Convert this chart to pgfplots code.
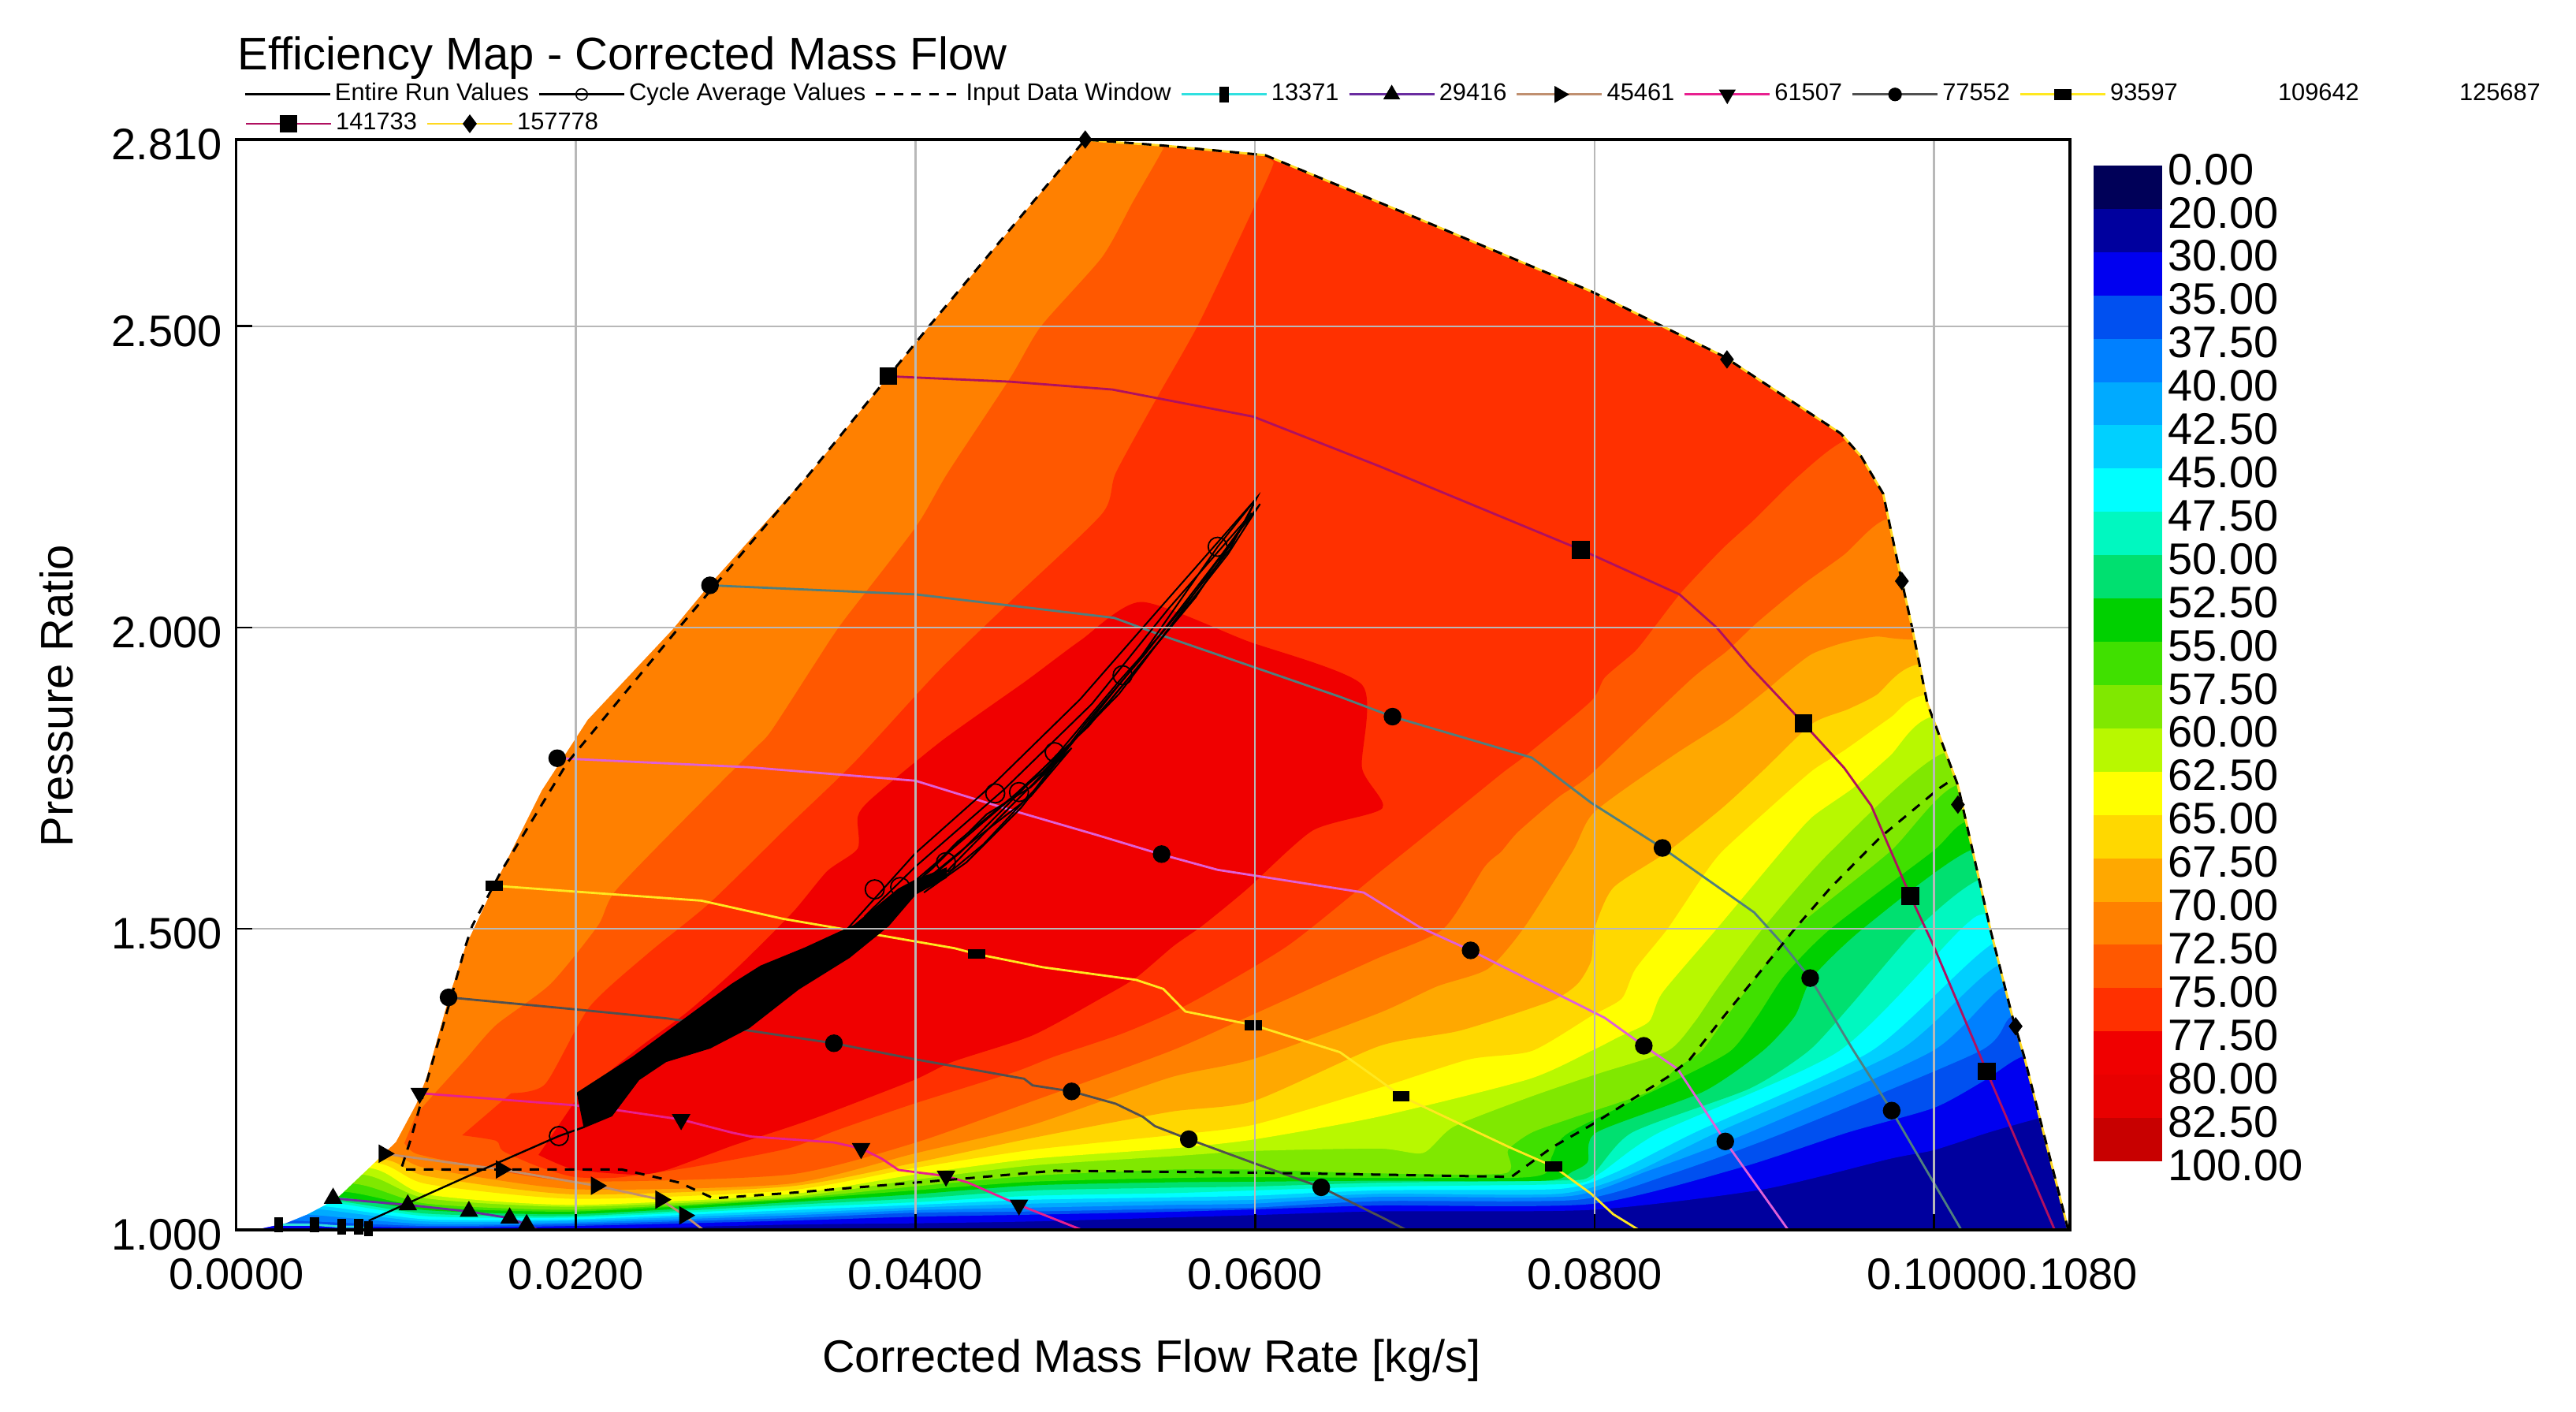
\documentclass[border=0pt]{standalone}
\usepackage{fontspec}
\setmainfont{Liberation Sans}
\usepackage{pgfplots}
\pgfplotsset{compat=1.18}

% band colours, named by lower limit
\definecolor{c0}{HTML}{000058}
\definecolor{c20}{HTML}{00009E}
\definecolor{c30}{HTML}{0000F0}
\definecolor{c35}{HTML}{0050F0}
\definecolor{c375}{HTML}{0080FF}
\definecolor{c40}{HTML}{00AAFF}
\definecolor{c425}{HTML}{00D0FF}
\definecolor{c45}{HTML}{00FFFF}
\definecolor{c475}{HTML}{00F8C0}
\definecolor{c50}{HTML}{00E070}
\definecolor{c525}{HTML}{00D000}
\definecolor{c55}{HTML}{40E000}
\definecolor{c575}{HTML}{80E800}
\definecolor{c60}{HTML}{B8F800}
\definecolor{c625}{HTML}{FFFF00}
\definecolor{c65}{HTML}{FFD800}
\definecolor{c675}{HTML}{FFA800}
\definecolor{c70}{HTML}{FF8000}
\definecolor{c725}{HTML}{FF5800}
\definecolor{c75}{HTML}{FF3000}
\definecolor{c775}{HTML}{F00000}
\definecolor{c80}{HTML}{E80000}
\definecolor{c825}{HTML}{C80000}
% speed lines
\definecolor{s13}{HTML}{30E0E0}
\definecolor{s29}{HTML}{6A2CA0}
\definecolor{s45}{HTML}{C09070}
\definecolor{s61}{HTML}{E8208F}
\definecolor{s77}{HTML}{505050}
\definecolor{s93}{HTML}{FFE820}
\definecolor{s109}{HTML}{E060D8}
\definecolor{s125}{HTML}{4F7F7F}
\definecolor{s141}{HTML}{B01060}
\definecolor{s157}{HTML}{FFD820}
\definecolor{gridc}{HTML}{B8B8B8}

\pgfplotsset{
  band/.style={fill=#1,draw=none,forget plot},
  cband/.style={fill=#1,draw=none,forget plot,smooth,tension=.4},
  spd/.style={color=#1,line width=.7pt,forget plot},
  mk/.style={only marks,forget plot,mark=#1,mark size=2.6pt,mark options={solid,black,fill=black}},
  vbar/.style={mark=square*,mark size=2.2pt,mark options={solid,black,fill=black,xscale=.55}},
  hbar/.style={mark=square*,mark size=2.5pt,mark options={solid,black,fill=black,yscale=.55}},
  legimg/.style={legend image code/.code={
    \draw[mark repeat=2,mark phase=2,##1] plot coordinates {(0pt,0pt)(13.5pt,0pt)(27pt,0pt)};}},
  legrow/.style={legimg,legend columns=-1,
    legend style={draw=none,fill=none,font=\fontsize{7.7}{8}\selectfont,inner sep=0pt,
      nodes={inner sep=1.2pt,anchor=west},
      /tikz/every even column/.append style={column sep=1.7pt}}},
  lm/.style={mark=#1,mark size=2.4pt,mark options={solid,black,fill=black}},
}

\begin{document}
\begin{tikzpicture}
\useasboundingbox (-75.25pt,-57.5pt) rectangle (741.75pt,390pt);

\begin{axis}[
  name=map,
  at={(-0.3pt,0pt)},anchor=south west,
  scale only axis,width=581.55pt,height=345.75pt,
  xmin=0,xmax=0.108,ymin=1,ymax=2.81,
  axis on top,clip mode=individual,
  xtick={0,0.02,0.04,0.06,0.08,0.1,0.108},
  xticklabels={0.0000,0.0200,0.0400,0.0600,0.0800,0.1000,0.1080},
  ytick={1,1.5,2,2.5,2.81},
  yticklabels={1.000,1.500,2.000,2.500,2.810},
  xtick pos=bottom,ytick pos=left,tick align=inside,major tick length=5pt,
  tick style={black,line width=.7pt},
  tick label style={font=\fontsize{14}{15}\selectfont},
  xticklabel style={yshift=-5.5pt},
  yticklabel style={yshift=-1.5pt,xshift=-1pt},
  grid=major,grid style={gridc,line width=.6pt},
  axis line style={line width=.8pt},
  title={Efficiency Map - Corrected Mass Flow},
  title style={at={(0,1)},anchor=base west,xshift=-3pt,yshift=16pt,font=\fontsize{14.5}{16}\selectfont},
  xlabel={Corrected Mass Flow Rate [kg/s]},
  xlabel style={at={(axis description cs:0.5,0)},anchor=center,xshift=-0.5pt,yshift=-41.5pt,font=\fontsize{14.4}{16}\selectfont},
  ylabel={Pressure Ratio},
  ylabel style={at={(axis description cs:0,0.5)},anchor=center,yshift=57pt,xshift=-3.5pt,font=\fontsize{14.5}{16}\selectfont},
  legrow,
  legend style={at={(axis description cs:0,1)},anchor=west,xshift=2.2pt,yshift=14.3pt},
]

% efficiency bands, lowest first, each one covers everything above its contour
\addplot[band=c20] coordinates {(0,1)(0.108,1)(0.108,2.81)(0,2.81)} -- cycle;
\addplot[cband=c30] coordinates {(0,1)(0.018,1)(0.0325,1.0087)(0.0399,1.0109)(0.0469,1.014)(0.055,1.0205)(0.0599,1.0245)(0.0673,1.0308)(0.0798,1.0332)(0.0899,1.0671)(0.0974,1.118)(0.1,1.1325)(0.1032,1.1616)(0.1063,1.186)(0.108,1.19)(0.108,2.81)(0,2.81)} -- cycle;
\addplot[cband=c35] coordinates {(0,1.0087)(0.0027,1.0087)(0.0112,1.0037)(0.0199,1.0065)(0.0325,1.0153)(0.0399,1.0218)(0.0469,1.0253)(0.055,1.03)(0.0599,1.034)(0.0673,1.0405)(0.0798,1.043)(0.0886,1.1035)(0.0949,1.1616)(0.1,1.2027)(0.103,1.2487)(0.1052,1.2875)(0.108,1.2875)(0.108,2.81)(0,2.81)} -- cycle;
\addplot[cband=c375] coordinates {(0,1.0153)(0.0034,1.0153)(0.0112,1.0065)(0.0199,1.0096)(0.0325,1.0196)(0.0399,1.0284)(0.0469,1.0306)(0.055,1.0349)(0.0599,1.037)(0.0673,1.0478)(0.079,1.05)(0.0846,1.0938)(0.0912,1.1616)(0.1027,1.297)(0.1046,1.355)(0.108,1.355)(0.108,2.81)(0,2.81)} -- cycle;
\addplot[cband=c40] coordinates {(0,1.0253)(0.0042,1.0253)(0.0112,1.0096)(0.0199,1.0122)(0.0325,1.024)(0.0399,1.0327)(0.0469,1.037)(0.055,1.0414)(0.0599,1.0436)(0.0673,1.055)(0.0785,1.056)(0.0832,1.0986)(0.0891,1.1616)(0.0999,1.297)(0.1041,1.404)(0.108,1.404)(0.108,2.81)(0,2.81)} -- cycle;
\addplot[cband=c425] coordinates {(0,1.0349)(0.0046,1.0349)(0.0112,1.014)(0.0199,1.0153)(0.0325,1.028)(0.0399,1.037)(0.0469,1.0436)(0.055,1.048)(0.0599,1.05)(0.0673,1.0599)(0.0779,1.0599)(0.0822,1.0938)(0.0872,1.1616)(0.0979,1.297)(0.1037,1.438)(0.108,1.438)(0.108,2.81)(0,2.81)} -- cycle;
\addplot[cband=c45] coordinates {(0,1.0393)(0.0051,1.0393)(0.0112,1.0175)(0.0199,1.0175)(0.0325,1.0327)(0.0399,1.0414)(0.0469,1.05)(0.055,1.054)(0.0599,1.0567)(0.0673,1.0657)(0.0779,1.068)(0.0811,1.0938)(0.0859,1.1616)(0.0963,1.297)(0.1035,1.476)(0.108,1.476)(0.108,2.81)(0,2.81)} -- cycle;
\addplot[cband=c475] coordinates {(0,1.0458)(0.0054,1.0458)(0.0112,1.0227)(0.0199,1.0205)(0.0325,1.037)(0.0399,1.0458)(0.0469,1.0567)(0.055,1.061)(0.0599,1.0655)(0.0673,1.072)(0.0785,1.0764)(0.0803,1.0938)(0.0838,1.1616)(0.0944,1.297)(0.1016,1.5)(0.1032,1.525)(0.108,1.525)(0.108,2.81)(0,2.81)} -- cycle;
\addplot[cband=c50] coordinates {(0,1.0489)(0.0056,1.0489)(0.0112,1.027)(0.0199,1.023)(0.0325,1.0414)(0.0399,1.052)(0.0469,1.0655)(0.055,1.07)(0.0599,1.072)(0.0673,1.0783)(0.0779,1.082)(0.0798,1.09)(0.0822,1.1616)(0.0891,1.2342)(0.0926,1.297)(0.095,1.37)(0.099,1.5)(0.1028,1.583)(0.108,1.583)(0.108,2.81)(0,2.81)} -- cycle;
\addplot[cband=c525] coordinates {(0,1.0545)(0.006,1.0545)(0.0112,1.0327)(0.0199,1.0262)(0.0325,1.0458)(0.0399,1.059)(0.0469,1.074)(0.055,1.079)(0.0599,1.08)(0.0673,1.0817)(0.0771,1.0817)(0.0787,1.097)(0.0796,1.1131)(0.0801,1.1616)(0.0864,1.2294)(0.0899,1.297)(0.0918,1.355)(0.0928,1.418)(0.0958,1.5)(0.1022,1.631)(0.108,1.631)(0.108,2.81)(0,2.81)} -- cycle;
\addplot[cband=c55] coordinates {(0,1.0632)(0.0064,1.0632)(0.0112,1.038)(0.0199,1.0305)(0.0325,1.05)(0.0399,1.0655)(0.0469,1.08)(0.055,1.086)(0.0599,1.0875)(0.0673,1.0865)(0.0753,1.0865)(0.0771,1.0938)(0.0775,1.1228)(0.0785,1.1616)(0.0848,1.2487)(0.088,1.297)(0.0896,1.355)(0.0912,1.423)(0.0939,1.5)(0.0999,1.628)(0.1021,1.68)(0.108,1.68)(0.108,2.81)(0,2.81)} -- cycle;
\addplot[cband=c575] coordinates {(0,1.0764)(0.007,1.0764)(0.0112,1.0436)(0.0199,1.0336)(0.0325,1.052)(0.0399,1.072)(0.0469,1.09)(0.055,1.1)(0.0599,1.1)(0.0673,1.0938)(0.0747,1.0938)(0.0749,1.1325)(0.0763,1.1616)(0.0787,1.186)(0.0832,1.2294)(0.0848,1.268)(0.0863,1.297)(0.0878,1.355)(0.0896,1.423)(0.0918,1.5)(0.0974,1.628)(0.1013,1.738)(0.108,1.738)(0.108,2.81)(0,2.81)} -- cycle;
\addplot[cband=c60] coordinates {(0,1.0916)(0.0075,1.0916)(0.0112,1.0524)(0.0199,1.0384)(0.0325,1.0545)(0.0399,1.083)(0.0469,1.107)(0.055,1.122)(0.0599,1.131)(0.0673,1.135)(0.0699,1.1277)(0.0717,1.1713)(0.0761,1.2197)(0.0801,1.2584)(0.0843,1.297)(0.0859,1.3456)(0.0872,1.399)(0.0899,1.5)(0.0939,1.628)(0.1005,1.791)(0.108,1.791)(0.108,2.81)(0,2.81)} -- cycle;
\addplot[cband=c625] coordinates {(0,1.1025)(0.0079,1.1025)(0.0112,1.0589)(0.0199,1.0414)(0.0325,1.059)(0.0399,1.0916)(0.0469,1.118)(0.055,1.135)(0.0599,1.15)(0.0673,1.188)(0.0761,1.25)(0.0798,1.297)(0.0814,1.32)(0.0832,1.3456)(0.084,1.394)(0.0872,1.5)(0.091,1.628)(0.0928,1.685)(0.0952,1.733)(0.0974,1.787)(0.0999,1.852)(0.108,1.852)(0.108,2.81)(0,2.81)} -- cycle;
\addplot[cband=c65] coordinates {(0,1.1113)(0.0082,1.1113)(0.0112,1.0763)(0.0199,1.0515)(0.0325,1.0655)(0.0399,1.1025)(0.0469,1.133)(0.055,1.157)(0.0599,1.1745)(0.0673,1.2356)(0.0726,1.283)(0.0763,1.297)(0.0798,1.355)(0.0816,1.384)(0.0824,1.433)(0.0843,1.5)(0.0864,1.588)(0.0875,1.628)(0.0899,1.69)(0.0928,1.762)(0.0947,1.796)(0.0974,1.85)(0.0995,1.888)(0.108,1.888)(0.108,2.81)(0,2.81)} -- cycle;
\addplot[cband=c675] coordinates {(0,1.1178)(0.0085,1.1178)(0.0112,1.0894)(0.0199,1.0589)(0.0325,1.072)(0.0399,1.111)(0.0469,1.1527)(0.055,1.196)(0.0599,1.2138)(0.0673,1.305)(0.0721,1.331)(0.0774,1.3795)(0.079,1.4085)(0.0798,1.447)(0.08,1.5)(0.0811,1.568)(0.0843,1.628)(0.0875,1.7)(0.0899,1.762)(0.0928,1.84)(0.0949,1.864)(0.0966,1.888)(0.0991,1.939)(0.108,1.939)(0.108,2.81)(0,2.81)} -- cycle;
\addplot[cband=c70] coordinates {(0,1.1243)(0.0089,1.1243)(0.0112,1.1025)(0.0199,1.0676)(0.0325,1.0764)(0.0399,1.1265)(0.0469,1.1745)(0.055,1.253)(0.0599,1.2836)(0.0673,1.36)(0.0707,1.404)(0.0737,1.433)(0.0758,1.5)(0.0787,1.628)(0.08,1.694)(0.0846,1.787)(0.0878,1.845)(0.0902,1.898)(0.0912,1.922)(0.0928,1.956)(0.0947,1.975)(0.0966,1.985)(0.0987,1.98)(0.108,1.98)(0.108,2.81)(0,2.81)} -- cycle;
\addplot[cband=c725] coordinates {(0.0099,1.144)(0.0106,1.1265)(0.0135,1.109)(0.0199,1.0807)(0.0325,1.0916)(0.0399,1.144)(0.0469,1.2138)(0.055,1.2967)(0.0599,1.3578)(0.064,1.41)(0.0673,1.452)(0.0711,1.5)(0.0735,1.602)(0.0745,1.628)(0.0755,1.661)(0.0779,1.719)(0.0798,1.757)(0.0856,1.912)(0.0878,1.961)(0.0896,2.009)(0.0923,2.072)(0.0947,2.121)(0.0971,2.179)(0.102,2.2)(0.102,2.81)(0.0546,2.81)(0.0546,2.795)(0.0528,2.706)(0.051,2.615)(0.0474,2.5)(0.0456,2.415)(0.0419,2.2565)(0.04,2.166)(0.0357,2.0086)(0.0341,1.941)(0.0315,1.828)(0.0305,1.798)(0.0276,1.716)(0.0224,1.565)(0.0213,1.505)(0.0185,1.408)(0.0153,1.34)(0.0135,1.283)(0.0117,1.227)(0.0106,1.192)} -- cycle;
\addplot[cband=c75] coordinates {(0.0133,1.157)(0.0153,1.148)(0.0157,1.131)(0.0178,1.105)(0.0199,1.088)(0.0225,1.087)(0.027,1.105)(0.0325,1.1352)(0.0354,1.1658)(0.0399,1.2094)(0.0458,1.2618)(0.0482,1.288)(0.0523,1.3272)(0.0561,1.3752)(0.0619,1.4712)(0.0673,1.593)(0.0707,1.67)(0.0745,1.757)(0.0761,1.791)(0.0798,1.878)(0.0806,1.917)(0.0824,1.961)(0.0835,2)(0.0851,2.058)(0.0875,2.13)(0.0894,2.179)(0.092,2.251)(0.0947,2.31)(0.1,2.36)(0.1,2.81)(0.0611,2.81)(0.0611,2.771)(0.0599,2.695)(0.0567,2.505)(0.0542,2.38)(0.0518,2.2565)(0.051,2.189)(0.0457,2.046)(0.0413,1.926)(0.0364,1.776)(0.0325,1.67)(0.0279,1.543)(0.0243,1.4601)(0.0208,1.37)(0.0182,1.2423)(0.0162,1.227)} -- cycle;
\addplot[cband=c775] coordinates {(0.0178,1.1244)(0.0199,1.1003)(0.0236,1.0916)(0.0254,1.1)(0.0292,1.1396)(0.0325,1.1702)(0.0347,1.192)(0.0399,1.2487)(0.0422,1.2792)(0.0469,1.3229)(0.0509,1.384)(0.053,1.4188)(0.0552,1.4712)(0.0569,1.505)(0.0595,1.565)(0.0634,1.663)(0.0675,1.7)(0.0663,1.767)(0.0663,1.905)(0.0595,1.978)(0.0533,2.0424)(0.0497,1.978)(0.0465,1.911)(0.0416,1.813)(0.0374,1.7155)(0.0366,1.6855)(0.0366,1.633)(0.0348,1.5954)(0.0328,1.528)(0.0296,1.4376)(0.0266,1.3625)(0.0237,1.302)(0.0201,1.2197)} -- cycle;

% everything outside the operating envelope is white
\addplot[band=white] coordinates {(0,1)(0.0011,1)(0.0019,1.005)(0.0029,1.011)(0.0042,1.026)(0.0052,1.041)(0.0061,1.057)(0.0083,1.116)(0.0094,1.146)(0.0106,1.209)(0.0112,1.253)(0.0125,1.384)(0.0135,1.471)(0.015,1.561)(0.018,1.73)(0.0207,1.847)(0.0257,1.997)(0.0279,2.072)(0.0338,2.257)(0.0408,2.5)(0.05,2.81)(0.051,2.807)(0.0546,2.8)(0.0606,2.784)(0.0631,2.755)(0.0695,2.68)(0.0798,2.558)(0.084,2.5)(0.0876,2.45)(0.0945,2.322)(0.0957,2.284)(0.097,2.222)(0.0979,2.102)(0.0987,2)(0.0996,1.874)(0.1014,1.738)(0.1033,1.5)(0.1046,1.355)(0.1053,1.288)(0.1079,1)(0.108,1)(0.108,2.81)(0,2.81)} -- cycle;

% speed lines
\addplot[spd=s13] coordinates {(0.0025,1.0087)(0.0046,1.0087)(0.0062,1.0052)(0.0072,1.0052)(0.0078,1.0022)};
\addplot[spd=s29] coordinates {(0.0057,1.0524)(0.0101,1.0414)(0.0137,1.0305)(0.0161,1.0196)(0.0171,1.0087)(0.0178,1)};
\addplot[spd=s45] coordinates {(0.0087,1.1265)(0.0156,1.1003)(0.0212,1.0733)(0.025,1.0502)(0.0264,1.024)(0.0275,1)};
\addplot[spd=s61] coordinates {(0.0108,1.2269)(0.0198,1.2072)(0.0225,1.1985)(0.0262,1.1832)(0.0292,1.1614)(0.0303,1.155)(0.0352,1.1452)(0.0368,1.1352)(0.038,1.1185)(0.039,1.0995)(0.0418,1.0894)(0.0431,1.0785)(0.0461,1.0414)(0.0498,1)};
\addplot[spd=s77] coordinates {(0.0125,1.386)(0.02,1.366)(0.0254,1.351)(0.0352,1.3098)(0.0399,1.2836)(0.0464,1.2509)(0.0469,1.2399)(0.0492,1.2299)(0.0518,1.2094)(0.0534,1.1876)(0.0541,1.1723)(0.0561,1.1505)(0.0599,1.1112)(0.0639,1.0707)(0.0677,1.0175)(0.0689,1)};
\addplot[spd=s93] coordinates {(0.0152,1.5713)(0.02,1.5615)(0.0274,1.5465)(0.0322,1.5164)(0.0377,1.49)(0.0423,1.4676)(0.0436,1.4579)(0.0475,1.436)(0.053,1.415)(0.0546,1.4)(0.0559,1.3625)(0.0599,1.34)(0.065,1.295)(0.0673,1.249)(0.0686,1.2221)(0.075,1.137)(0.0776,1.105)(0.0798,1.06)(0.0811,1.026)(0.0826,1)};
\addplot[spd=s109] coordinates {(0.0189,1.783)(0.0302,1.768)(0.04,1.7456)(0.0452,1.7005)(0.0507,1.6554)(0.0545,1.6231)(0.0578,1.5977)(0.0664,1.56)(0.0697,1.5025)(0.0727,1.464)(0.0806,1.352)(0.0829,1.3056)(0.0849,1.267)(0.0877,1.1468)(0.0914,1)};
\addplot[spd=s125] coordinates {(0.0279,2.07)(0.04,2.055)(0.0517,2.016)(0.0546,1.986)(0.065,1.885)(0.0681,1.852)(0.0763,1.784)(0.0798,1.709)(0.084,1.634)(0.0894,1.527)(0.0911,1.474)(0.0927,1.418)(0.0952,1.3)(0.0975,1.198)(0.1016,1)};
\addplot[spd=s141] coordinates {(0.0384,2.417)(0.0456,2.408)(0.0516,2.395)(0.0599,2.35)(0.0673,2.268)(0.0792,2.129)(0.085,2.055)(0.0872,1.9996)(0.0891,1.937)(0.0923,1.841)(0.0947,1.767)(0.0963,1.704)(0.0986,1.554)(0.0999,1.476)(0.1031,1.263)(0.1071,1)};
\addplot[spd=s157] coordinates {(0.05,2.81)(0.051,2.807)(0.0546,2.8)(0.0606,2.784)(0.0631,2.755)(0.0695,2.68)(0.0798,2.558)(0.084,2.5)(0.0876,2.45)(0.0945,2.322)(0.0957,2.284)(0.097,2.222)(0.0979,2.102)(0.0987,2)(0.0996,1.874)(0.1014,1.738)(0.1033,1.5)(0.1046,1.355)(0.1053,1.288)(0.1079,1)};

% input data window
\addplot[black,line width=.75pt,dash pattern=on 3pt off 2.6pt,forget plot] coordinates {(0.1079,1)(0.1053,1.288)(0.1046,1.355)(0.1033,1.5)(0.1014,1.738)(0.0996,1.874)(0.0987,2)(0.0979,2.102)(0.097,2.222)(0.0957,2.284)(0.0945,2.322)(0.0876,2.45)(0.084,2.5)(0.0798,2.558)(0.0695,2.68)(0.0631,2.755)(0.0606,2.784)(0.0546,2.8)(0.05,2.81)(0.0408,2.5)(0.0338,2.2565)(0.026,1.9973)(0.0195,1.7757)(0.0156,1.5953)(0.0139,1.505)(0.0135,1.4712)(0.0125,1.3709)(0.0112,1.2443)(0.0103,1.1527)(0.0097,1.1003)(0.0227,1.1003)(0.0261,1.0785)(0.0281,1.0524)(0.0325,1.0611)(0.0428,1.085)(0.0482,1.0982)(0.0599,1.095)(0.0677,1.0916)(0.0751,1.088)(0.0775,1.137)(0.0798,1.174)(0.0843,1.2536)(0.0856,1.2826)(0.0875,1.3505)(0.0896,1.423)(0.0918,1.5)(0.0939,1.568)(0.0968,1.651)(0.1003,1.733)(0.1012,1.75)};

% entire run values
\addplot[black,fill=black,line width=.5pt,forget plot] coordinates {(0.0201,1.2272)(0.0234,1.2873)(0.0263,1.3474)(0.0292,1.4075)(0.0309,1.4376)(0.0335,1.4676)(0.0364,1.5052)(0.039,1.5653)(0.04,1.5803)(0.0418,1.6)(0.0418,1.585)(0.04,1.5578)(0.0384,1.5052)(0.0361,1.4526)(0.0331,1.4)(0.0302,1.3361)(0.0279,1.3024)(0.0253,1.2798)(0.0237,1.2497)(0.0221,1.1896)(0.0205,1.1708)} -- cycle;
\addplot[black,line width=.6pt,forget plot] coordinates {(0.0078,1.0152)(0.0152,1.1088)(0.019,1.1558)(0.0205,1.1708)};
\addplot[black,line width=.5pt,forget plot] coordinates {(0.036,1.5)(0.04,1.6254)(0.0448,1.7456)(0.0497,1.8808)(0.0546,2.0386)(0.0601,2.215)(0.0585,2.129)(0.0546,1.9935)(0.052,1.911)(0.0484,1.7907)(0.0455,1.708)(0.0426,1.6254)(0.04,1.5653)};
\addplot[black,line width=.5pt,forget plot] coordinates {(0.037,1.52)(0.04,1.603)(0.0452,1.7306)(0.0504,1.8733)(0.0549,2.031)(0.0595,2.18)(0.0601,2.215)(0.0578,2.134)(0.053,1.94)(0.049,1.8)(0.0462,1.7)(0.043,1.61)(0.0405,1.56)};
\addplot[black,line width=.5pt,forget plot] coordinates {(0.0385,1.54)(0.04,1.58)(0.0456,1.7155)(0.0502,1.836)(0.0544,1.9785)(0.0584,2.1215)(0.0603,2.205)(0.0572,2.09)(0.0535,1.955)(0.05,1.84)(0.047,1.73)(0.044,1.64)(0.041,1.57)};
\addplot[black,line width=.5pt,forget plot] coordinates {(0.0395,1.56)(0.0425,1.645)(0.0475,1.76)(0.052,1.89)(0.0555,2.02)(0.0598,2.19)(0.0565,2.05)(0.0515,1.88)(0.0478,1.765)(0.0448,1.68)(0.0415,1.585)};
\addplot[black,line width=.5pt,forget plot] coordinates {(0.038,1.525)(0.041,1.6)(0.0442,1.69)(0.0468,1.735)(0.0492,1.8)(0.0468,1.72)(0.0438,1.655)(0.041,1.59)};

% markers
\addplot[mk=o,mark size=3pt,mark options={solid,black,fill=none,line width=.45pt}] coordinates {(0.0578,2.134)(0.0522,1.9207)(0.0482,1.793)(0.0461,1.7268)(0.0447,1.7246)(0.0418,1.6104)(0.0391,1.5691)(0.0376,1.5653)(0.019,1.1558)};
\addplot[mk=square*,vbar] coordinates {(0.0025,1.0087)(0.0046,1.0087)(0.0062,1.0052)(0.0072,1.0052)(0.0078,1.0022)};
\addplot[mk=triangle*,mark size=3pt] coordinates {(0.0057,1.0524)(0.0101,1.0414)(0.0137,1.0305)(0.0161,1.0196)(0.0171,1.0087)};
\addplot[mk=triangle*,mark size=3pt,mark options={solid,black,fill=black,rotate=-90}] coordinates {(0.0087,1.1265)(0.0156,1.1003)(0.0212,1.0733)(0.025,1.0502)(0.0264,1.024)};
\addplot[mk=triangle*,mark size=3pt,mark options={solid,black,fill=black,rotate=180}] coordinates {(0.0108,1.2269)(0.0262,1.1832)(0.0368,1.1352)(0.0418,1.0894)(0.0461,1.0414)};
\addplot[mk=*] coordinates {(0.0125,1.386)(0.0352,1.3098)(0.0492,1.2299)(0.0561,1.1505)(0.0639,1.0707)};
\addplot[mk=square*,hbar] coordinates {(0.0152,1.5713)(0.0436,1.4579)(0.0599,1.34)(0.0686,1.2221)(0.0776,1.105)};
\addplot[mk=*] coordinates {(0.0189,1.783)(0.0545,1.6238)(0.0727,1.464)(0.0829,1.3056)(0.0877,1.1468)};
\addplot[mk=*] coordinates {(0.0279,2.07)(0.0681,1.852)(0.084,1.634)(0.0927,1.418)(0.0975,1.198)};
\addplot[mk=square*] coordinates {(0.0384,2.417)(0.0792,2.129)(0.0923,1.841)(0.0986,1.554)(0.1031,1.263)};
\addplot[mk=diamond*] coordinates {(0.05,2.81)(0.0878,2.445)(0.0981,2.077)(0.1014,1.706)(0.1048,1.338)};

% legend, first row
\addlegendimage{black,line width=.7pt}
\addlegendentry{Entire Run Values}
\addlegendimage{black,line width=.7pt,lm=o,mark options={solid,black,fill=none,line width=.4pt},mark size=1.8pt}
\addlegendentry{Cycle Average Values}
\addlegendimage{black,line width=.7pt,dash pattern=on 3pt off 2.6pt}
\addlegendentry{Input Data Window}
\addlegendimage{s13,line width=.7pt,vbar}
\addlegendentry{13371}
\addlegendimage{s29,line width=.7pt,lm=triangle*}
\addlegendentry{29416}
\addlegendimage{s45,line width=.7pt,lm=triangle*,mark options={solid,black,fill=black,rotate=-90}}
\addlegendentry{45461}
\addlegendimage{s61,line width=.7pt,lm=triangle*,mark options={solid,black,fill=black,rotate=180}}
\addlegendentry{61507}
\addlegendimage{s77,line width=.7pt,lm=*,mark size=1.8pt}
\addlegendentry{77552}
\addlegendimage{s93,line width=.7pt,hbar}
\addlegendentry{93597}
\addlegendimage{white,line width=.7pt}
\addlegendentry{109642}
\addlegendimage{white,line width=.7pt}
\addlegendentry{125687}
\end{axis}

% legend, second row
\begin{axis}[
  at={(0pt,0pt)},anchor=south west,
  scale only axis,width=581.25pt,height=345.75pt,
  xmin=0,xmax=1,ymin=0,ymax=1,hide axis,
  legrow,
  legend style={at={(axis description cs:0,1)},anchor=west,xshift=2.2pt,yshift=5pt},
]
\addlegendimage{s141,line width=.7pt,lm=square*}
\addlegendentry{141733}
\addlegendimage{s157,line width=.7pt,lm=diamond*}
\addlegendentry{157778}
\end{axis}

% colour scale
\begin{axis}[
  at={(588.75pt,21.75pt)},anchor=south west,
  scale only axis,width=21.75pt,height=315.75pt,
  xmin=0,xmax=1,ymin=0,ymax=23,y dir=reverse,
  axis line style={draw=none},major tick length=0pt,xtick=\empty,
  ytick={0,...,23},
  yticklabels={0.00,20.00,30.00,35.00,37.50,40.00,42.50,45.00,47.50,50.00,52.50,55.00,57.50,60.00,62.50,65.00,67.50,70.00,72.50,75.00,77.50,80.00,82.50,100.00},
  yticklabel pos=right,
  yticklabel style={font=\fontsize{14}{15}\selectfont,anchor=west,xshift=-0.4pt,yshift=-1.2pt,inner xsep=2pt},
]
\addplot[band=c0] coordinates {(0,0)(1,0)(1,1)(0,1)} -- cycle;
\addplot[band=c20] coordinates {(0,1)(1,1)(1,2)(0,2)} -- cycle;
\addplot[band=c30] coordinates {(0,2)(1,2)(1,3)(0,3)} -- cycle;
\addplot[band=c35] coordinates {(0,3)(1,3)(1,4)(0,4)} -- cycle;
\addplot[band=c375] coordinates {(0,4)(1,4)(1,5)(0,5)} -- cycle;
\addplot[band=c40] coordinates {(0,5)(1,5)(1,6)(0,6)} -- cycle;
\addplot[band=c425] coordinates {(0,6)(1,6)(1,7)(0,7)} -- cycle;
\addplot[band=c45] coordinates {(0,7)(1,7)(1,8)(0,8)} -- cycle;
\addplot[band=c475] coordinates {(0,8)(1,8)(1,9)(0,9)} -- cycle;
\addplot[band=c50] coordinates {(0,9)(1,9)(1,10)(0,10)} -- cycle;
\addplot[band=c525] coordinates {(0,10)(1,10)(1,11)(0,11)} -- cycle;
\addplot[band=c55] coordinates {(0,11)(1,11)(1,12)(0,12)} -- cycle;
\addplot[band=c575] coordinates {(0,12)(1,12)(1,13)(0,13)} -- cycle;
\addplot[band=c60] coordinates {(0,13)(1,13)(1,14)(0,14)} -- cycle;
\addplot[band=c625] coordinates {(0,14)(1,14)(1,15)(0,15)} -- cycle;
\addplot[band=c65] coordinates {(0,15)(1,15)(1,16)(0,16)} -- cycle;
\addplot[band=c675] coordinates {(0,16)(1,16)(1,17)(0,17)} -- cycle;
\addplot[band=c70] coordinates {(0,17)(1,17)(1,18)(0,18)} -- cycle;
\addplot[band=c725] coordinates {(0,18)(1,18)(1,19)(0,19)} -- cycle;
\addplot[band=c75] coordinates {(0,19)(1,19)(1,20)(0,20)} -- cycle;
\addplot[band=c775] coordinates {(0,20)(1,20)(1,21)(0,21)} -- cycle;
\addplot[band=c80] coordinates {(0,21)(1,21)(1,22)(0,22)} -- cycle;
\addplot[band=c825] coordinates {(0,22)(1,22)(1,23)(0,23)} -- cycle;
\end{axis}
\end{tikzpicture}
\end{document}
